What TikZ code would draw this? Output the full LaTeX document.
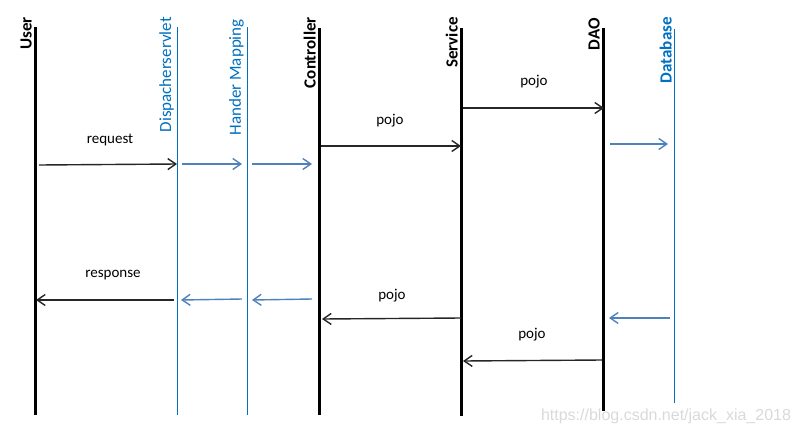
\documentclass[tikz,border=0pt]{standalone}
\usepackage{fontspec}
\setmainfont{Carlito}
\newfontfamily\markfont{Liberation Sans}
\usetikzlibrary{arrows.meta}
\definecolor{lifeblue}{RGB}{0,112,192}
\definecolor{arrowblue}{RGB}{79,129,189}
\tikzset{
  lifeline/.style={line width=3pt},
  thinline/.style={lifeblue, line width=1pt},
  msg/.style={-{Straight Barb[length=8pt,width=11pt]}, line width=1.4pt, black!85},
  bluemsg/.style={msg, arrowblue},
  title/.style={rotate=90, anchor=south east, inner sep=0pt, font=\fontsize{17}{20}\selectfont\bfseries},
  bluetitle/.style={title, lifeblue, font=\fontsize{17}{20}\selectfont},
  lbl/.style={font=\fontsize{15}{18}\selectfont, inner sep=0pt},
}
\begin{document}
\begin{tikzpicture}[x=1pt,y=-1pt]
\useasboundingbox (0,0) rectangle (800,434);

% lifeline positions
\coordinate (user) at (35,0);
\coordinate (disp) at (177,0);
\coordinate (hmap) at (247,0);
\coordinate (ctrl) at (319,0);
\coordinate (serv) at (461,0);
\coordinate (dao) at (603,0);
\coordinate (db) at (674,0);

% vertical titles
\node[title] (userlabel) at (32,17) {User};
\node[bluetitle] (displabel) at (174,17) {Dispacherservlet};
\node[bluetitle] (hmaplabel) at (244,19) {Hander Mapping};
\node[title] (ctrllabel) at (316,17) {Controller};
\node[title] (servlabel) at (458,17) {Service};
\node[title] (daolabel) at (600,18) {DAO};
\node[title, lifeblue] (dblabel) at (672,17) {Database};

% lifelines
\draw[lifeline] (user |- 0,27) -- (user |- 0,415);
\draw[thinline] (disp |- 0,27) -- (disp |- 0,415);
\draw[thinline] (hmap |- 0,27) -- (hmap |- 0,415);
\draw[lifeline] (ctrl |- 0,28) -- (ctrl |- 0,415);
\draw[lifeline] (serv |- 0,28) -- (serv |- 0,416);
\draw[lifeline] (dao |- 0,28) -- (dao |- 0,411);
\draw[thinline] (db |- 0,29) -- (db |- 0,403);

% requests going right
\draw[msg] ([xshift=4pt]user |- 0,165) -- (disp |- 0,164);
\node[lbl] (request) at (110,140) {request};
\draw[bluemsg] ([xshift=5pt]disp |- 0,164) -- ([xshift=-5pt]hmap |- 0,164);
\draw[bluemsg] ([xshift=5pt]hmap |- 0,164) -- ([xshift=-7pt]ctrl |- 0,164);
\draw[msg] ([xshift=2pt]ctrl |- 0,146) -- (serv |- 0,146);
\node[lbl] (pojoa) at (390,121) {pojo};
\draw[msg] ([xshift=2pt]serv |- 0,108) -- ([xshift=1pt]dao |- 0,108);
\node[lbl] (pojob) at (534,82) {pojo};
\draw[bluemsg] ([xshift=7pt]dao |- 0,144) -- ([xshift=-6pt]db |- 0,144);

% answers going left
\draw[bluemsg] ([xshift=-4pt]db |- 0,318) -- ([xshift=6pt]dao |- 0,318);
\draw[msg] ([xshift=-1pt]dao |- 0,360) -- ([xshift=2pt]serv |- 0,361);
\node[lbl] (pojoc) at (532,335) {pojo};
\draw[msg] (serv |- 0,318) -- ([xshift=3pt]ctrl |- 0,319);
\node[lbl] (pojod) at (392,296) {pojo};
\draw[bluemsg] ([xshift=-7pt]ctrl |- 0,299) -- ([xshift=5pt]hmap |- 0,300);
\draw[bluemsg] ([xshift=-5pt]hmap |- 0,299) -- ([xshift=4pt]disp |- 0,300);
\draw[msg] ([xshift=-3pt]disp |- 0,300) -- ([xshift=1pt]user |- 0,300);
\node[lbl] (response) at (113,275) {response};

% watermark
\node[gray!30, font=\markfont\fontsize{16}{18}\selectfont, inner sep=0pt] (mark) at (666,416) {https://blog.csdn.net/jack\_xia\_2018};
\end{tikzpicture}
\end{document}
